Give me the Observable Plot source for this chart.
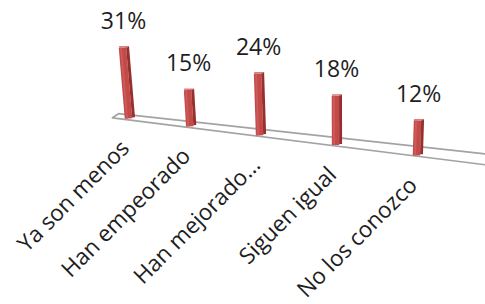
<!DOCTYPE html>
<html><head><meta charset="utf-8">
<script src="https://cdn.jsdelivr.net/npm/d3@7"></script>
<script src="https://cdn.jsdelivr.net/npm/@observablehq/plot@0.6"></script>
<style>html,body{margin:0;padding:0;background:#fff;}</style>
</head><body><div id="chart"></div>
<script>
// ---- data ----
const categories = ["Ya son menos", "Han empeorado", "Han mejorado…", "Siguen igual", "No los conozco"];
const values = [31, 15, 24, 18, 12];
const valueLabels = ["31%", "15%", "24%", "18%", "12%"];

// ---- 3-D view projection (perspective of the tilted floor) ----
const depthExp = 1.25;
const n = categories.length;
const persp = i => (Math.pow(i + 1, depthExp) - 1) / (Math.pow(n, depthExp) - 1);
const baseAt = t => -14.8 * t;                 // floor level under bars
const frontAt = t => -(0.52 + 14.52 * t);      // front edge of floor
const backAt = t => 1.48 - 12.6 * t;           // back edge of floor
const heightScale = t => 0.916 + 0.252 * t;    // nearer bars look taller
const leanAt = (t, h) => 0.001 * (0.734 - t) * h;

const bars = categories.map((c, i) => {
  const t = persp(i);
  const b = baseAt(t);
  const top = b + values[i] * heightScale(t);
  return {c, v: values[i], label: valueLabels[i], t, b, top, tt: t - leanAt(t, top - b)};
});

const tL1 = -0.0556, tL2 = -0.0347, tR = 1.35;
const floor = [
  {t: tL1, y: frontAt(tL1)},
  {t: tR, y: frontAt(tR)},
  {t: tR, y: backAt(tR)},
  {t: tL2, y: backAt(tL2)},
  {t: tL1, y: frontAt(tL1)}
];

const font = "'Open Sans', sans-serif";
const chart = Plot.plot({
  width: 485,
  height: 304,
  margin: 0,
  style: {background: "#fff"},
  x: {type: "linear", domain: [0, 1], range: [128, 416], axis: null},
  y: {type: "linear", domain: [-74.4, 47.2], range: [304, 0], axis: null},
  marks: [
    Plot.line(floor, {x: "t", y: "y", stroke: "#a3a3a3", strokeWidth: 1.7, curve: "linear"}),
    // side face
    Plot.link(bars, {x1: "t", y1: "b", x2: "tt", y2: "top", stroke: "#96302e", strokeWidth: 3, dx: 5, dy: -1.2}),
    // front face
    Plot.link(bars, {x1: "t", y1: "b", x2: "tt", y2: "top", stroke: "#c24a48", strokeWidth: 7.5}),
    Plot.link(bars, {x1: "t", y1: "b", x2: "tt", y2: "top", stroke: "#cc5a58", strokeWidth: 2, dx: -1.5}),
    // top cap
    Plot.link(bars, {x1: "tt", y1: "top", x2: "tt", y2: d => d.top + 0.6, stroke: "#d9807e", strokeWidth: 9, dx: 1}),
    // value labels
    Plot.text(bars, {x: "tt", y: "top", text: "label", dy: -26, dx: 1, fontSize: 23, fontFamily: font, fill: "#1e1e1e"}),
    // category labels
    Plot.text(bars, {x: "t", y: "b", text: "c", rotate: -45, textAnchor: "end", dx: -3, dy: 26, fontSize: 22.5, fontFamily: font, fill: "#1e1e1e"})
  ]
});
document.getElementById("chart").appendChild(chart);
</script>
</body></html>
